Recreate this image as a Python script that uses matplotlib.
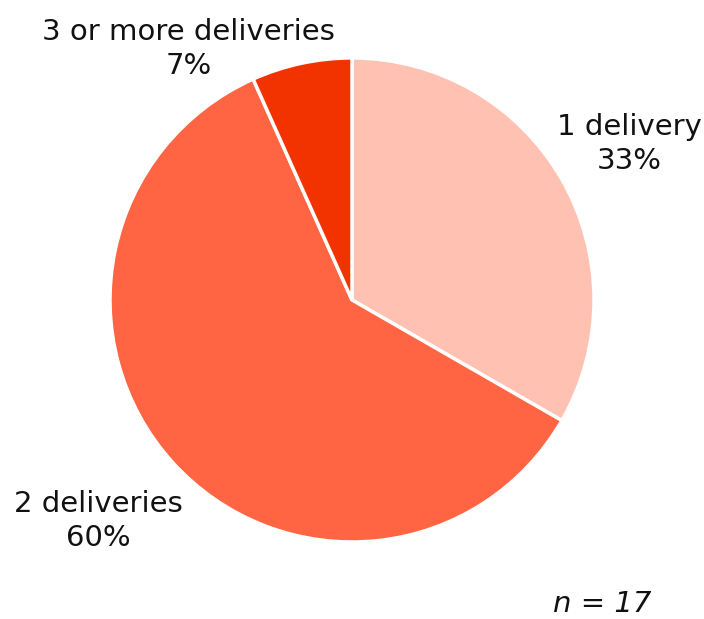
import matplotlib.pyplot as plt

# data
labels = ["1 delivery", "2 deliveries", "3 or more deliveries"]
shares = [33.3, 60.0, 6.7]
colors = ["#FFC1B1", "#FF6542", "#F23300"]

plt.rcParams['font.family'] = ['DejaVu Sans']

fig = plt.figure(figsize=(7.04, 6.19), dpi=100)
ax = fig.add_axes([0.15625, 0.1244, 0.6875, 0.782])

ax.pie(shares, colors=colors, startangle=90, counterclock=False, radius=1,
       wedgeprops=dict(edgecolor="white", linewidth=2.5))
ax.set_xlim(-1.0, 1.0)
ax.set_ylim(-1.0, 1.0)
ax.set_aspect("auto")
ax.axis("off")

# label positions (pie units)
label_pos = [(1.147, 0.645), (-1.05, -0.913), (-0.674, 1.037)]
for lab, val, (x, y) in zip(labels, shares, label_pos):
    ax.text(x, y, f"{lab}\n{val:.0f}%", ha="center", va="center", fontsize=21,
            color="#111111", linespacing=1.3, clip_on=False)

ax.text(1.033, -1.256, "n = 17", ha="center", va="center", fontsize=21,
        style="italic", color="#111111", clip_on=False)

fig.savefig("out.png", dpi=100)
